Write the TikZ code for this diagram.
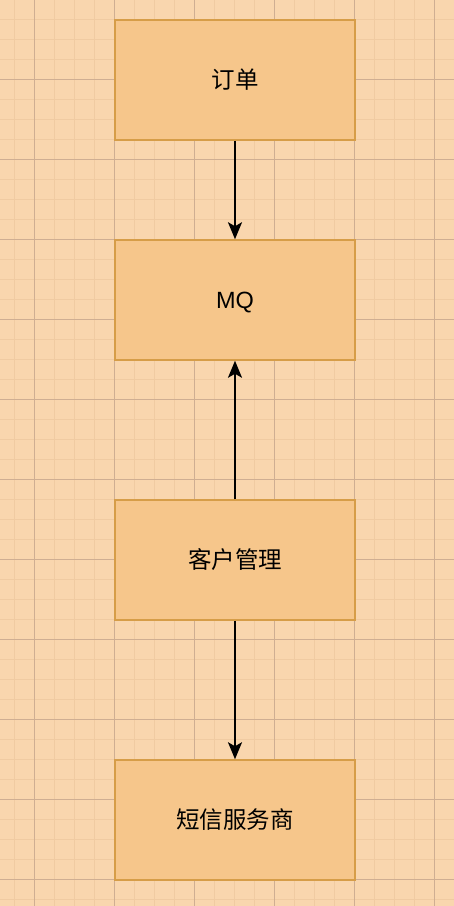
\documentclass[tikz,border=0pt]{standalone}
\usepackage{fontspec}
\setmainfont{Liberation Sans}
\newfontfamily\cjk{Noto Sans CJK SC}
\usetikzlibrary{arrows.meta}
\definecolor{bgc}{HTML}{F9D6AE}
\definecolor{minorc}{HTML}{F0CBA2}
\definecolor{majorc}{HTML}{CFAE92}
\definecolor{boxfill}{HTML}{F6C68B}
\definecolor{boxline}{HTML}{D69D48}
\tikzset{
  box/.style={draw=boxline, fill=boxfill, line width=1.5pt, minimum width=240pt, minimum height=120pt, inner sep=0pt, font=\fontsize{23.5}{28}\selectfont\cjk},
  conn/.style={line width=2pt, -{Stealth[length=17pt,width=14pt,inset=4pt]}}
}
\begin{document}
\begin{tikzpicture}[x=1pt,y=-1pt]
\fill[bgc] (0,0) rectangle (454,906);
\useasboundingbox (0,0) rectangle (454,906);
\foreach \i in {0,...,22} {
  \draw[minorc, line width=1.3pt] (14.5+20*\i,0) -- (14.5+20*\i,906);
}
\foreach \i in {0,...,45} {
  \draw[minorc, line width=1.3pt] (0,19.5+20*\i) -- (454,19.5+20*\i);
}
\foreach \i in {0,...,5} {
  \draw[majorc, line width=1pt] (34.5+80*\i,0) -- (34.5+80*\i,906);
}
\foreach \i in {0,...,10} {
  \draw[majorc, line width=1pt] (0,79.5+80*\i) -- (454,79.5+80*\i);
}
\node[box] (order) at (235,80) {订单};
\node[box,font=\fontsize{23.5}{28}\selectfont,text depth=0pt] (mq) at (235,300) {MQ};
\node[box] (cust) at (235,560) {客户管理};
\node[box] (sms) at (235,820) {短信服务商};
\draw[conn] (order) -- (mq);
\draw[conn] (cust) -- (mq);
\draw[conn] (cust) -- (sms);
\end{tikzpicture}
\end{document}
